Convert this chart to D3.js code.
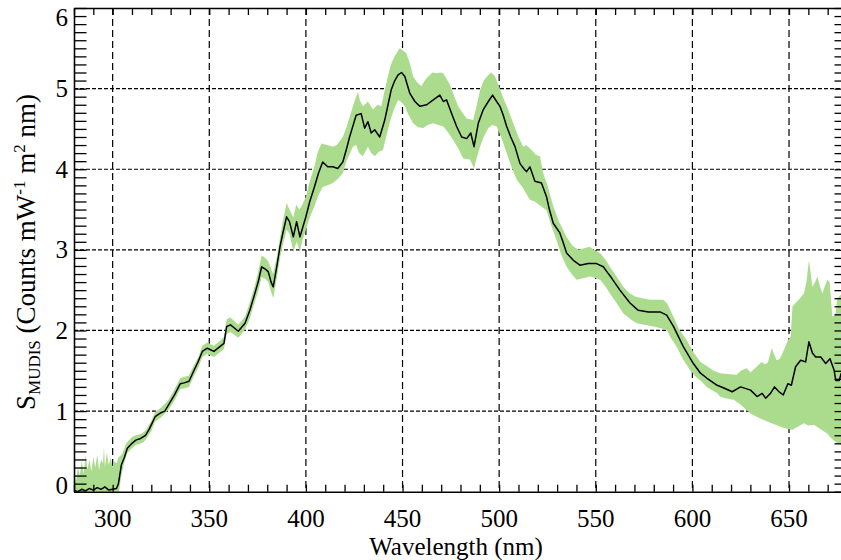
<!DOCTYPE html>
<html>
<head>
<meta charset="utf-8">
<script src="https://cdn.jsdelivr.net/npm/d3@7/dist/d3.min.js"></script>
</head>
<body style="margin:0">
<svg id="chart" width="841" height="560"></svg>
<script>
// ---- data ----
const xTickLabels = [300, 350, 400, 450, 500, 550, 600, 650];
const yTickLabels = [0, 1, 2, 3, 4, 5, 6];

const meanWl = [280,282,284,286,288,290,292,294,296,298,300,302,303,304.5,306,307.6,310,312,314.5,317,319,322,325,327,329,332,335,337,339.5,342,344,346.4,349,352.4,355,357.6,359,361,363,365,368.5,371,373.6,375.5,377.1,379,380.5,382,383.1,385,386.6,388,390,391.5,393.5,395.2,396.9,398,400,402,404.4,406.5,408.7,411.3,413.9,416.5,419.1,421,422.6,424.5,426,428.6,430.4,432.1,433.8,435.6,438.2,440.8,442.5,444.2,446,447.7,449.5,451.2,453.8,456.4,459,462.5,465.9,469.3,471.1,472.8,475.4,478,480.6,483.2,485.3,487,489.2,491.8,494.4,496.6,498.7,500.4,502,503.9,506,508.2,510.8,513,514.2,515.9,518.5,521.9,524.5,526,528,531.4,533,534.9,538.4,541.8,546.1,550.4,553.9,556,558.2,562.5,567.7,572,577.2,583.3,586.7,590.2,595.3,600.5,604.2,607.4,612.8,616,620.6,624.9,630.1,633.5,636.1,637.9,640.4,642.5,644.8,647,649.4,651.2,653.4,656,658.6,660.3,662.1,663.8,666.4,669,671.2,673.3,674.2,676,677];
const meanVal = [0.02,0.0,0.03,0.01,0.04,0.02,0.05,0.03,0.06,0.02,0.03,0.04,0.1,0.33,0.42,0.54,0.6,0.64,0.66,0.70,0.78,0.93,0.98,1.0,1.08,1.2,1.34,1.35,1.37,1.5,1.6,1.74,1.78,1.74,1.79,1.84,2.05,2.07,2.03,1.99,2.09,2.25,2.46,2.62,2.79,2.76,2.73,2.6,2.54,2.8,3.04,3.2,3.41,3.35,3.16,3.35,3.16,3.25,3.41,3.6,3.78,3.95,4.09,4.03,4.03,4.01,4.09,4.25,4.40,4.55,4.67,4.69,4.51,4.59,4.45,4.49,4.40,4.61,4.8,4.99,5.1,5.17,5.2,5.15,4.94,4.84,4.78,4.80,4.86,4.92,4.84,4.86,4.69,4.53,4.40,4.38,4.45,4.28,4.57,4.74,4.84,4.92,4.84,4.78,4.68,4.53,4.4,4.28,4.07,4.0,3.97,4.03,3.85,3.83,3.66,3.5,3.33,3.21,3.1,2.96,2.87,2.81,2.83,2.83,2.79,2.72,2.65,2.50,2.34,2.25,2.23,2.23,2.19,2.05,1.80,1.59,1.47,1.41,1.32,1.29,1.24,1.30,1.26,1.18,1.22,1.16,1.22,1.30,1.24,1.20,1.34,1.32,1.55,1.63,1.61,1.86,1.72,1.67,1.67,1.59,1.65,1.51,1.38,1.38,1.47];

const upperWl = [280,281,282,283,284,285,286,287,288,289,290,291,292,293,294,295,295.5,296,297,298,299,300,301,302,303,305,307,310,312,315,317,320,322,325,329,332,335,339.5,342,344.5,346.4,349,352.4,355,357.6,359,361,365,368.5,371,373.6,375.5,377.1,379,380.5,383,385,386.6,388,390,391.5,393.5,395,396.6,398,400,402,404.4,406,408,411,413.9,416,419.1,421,424.3,426.9,428,429.5,432.1,434.7,437,439,440.5,442.4,444,445.9,448.5,450,452,454,455.5,457.5,459.8,461.5,463.3,465.5,467.6,469.5,471.1,474.5,476.5,478.8,481,483.2,486.6,488,490.1,492,494.4,496,497.9,500,502.2,505,507.3,510,512.5,514,516.8,519,521.1,522.8,525,528,531,534.9,538,540.9,544,547,549,552.2,555,557.3,561,564.3,567,570.3,574,578.1,582,585,587,590.2,593,597.1,600.5,604.2,608,611,614.3,618,622.9,625,628.1,630,633.2,635.8,637.5,639,641,643.6,645.3,647,649.4,650.8,651.8,653.4,655,657.7,659,660.3,661,662.1,663.5,664.7,666,667.3,668.5,669.9,671,672.4,674,675,677];
const upperVal = [0.25,0.12,0.3,0.2,0.38,0.22,0.45,0.28,0.4,0.25,0.43,0.3,0.46,0.27,0.4,0.35,0.56,0.3,0.48,0.33,0.42,0.3,0.38,0.35,0.42,0.47,0.6,0.68,0.7,0.72,0.76,0.88,0.99,1.04,1.14,1.27,1.41,1.44,1.57,1.68,1.81,1.85,1.81,1.86,1.92,2.14,2.16,2.07,2.17,2.35,2.56,2.75,2.93,2.9,2.86,2.7,2.92,3.15,3.35,3.58,3.5,3.4,3.56,3.5,3.55,3.66,3.85,4.03,4.2,4.32,4.3,4.28,4.3,4.40,4.52,4.78,4.96,4.85,4.78,4.84,4.74,4.8,4.78,4.95,5.15,5.3,5.40,5.50,5.48,5.44,5.3,5.15,5.08,5.03,5.1,5.15,5.2,5.19,5.2,5.19,5.05,4.92,4.78,4.7,4.63,4.61,4.75,4.98,5.1,5.17,5.2,5.15,5.02,4.88,4.72,4.57,4.4,4.28,4.3,4.24,4.18,4.16,3.95,3.8,3.54,3.35,3.16,3.05,3.0,3.02,3.04,3.0,2.96,2.88,2.79,2.66,2.54,2.47,2.42,2.4,2.38,2.38,2.38,2.33,2.17,2.02,1.88,1.73,1.61,1.55,1.5,1.47,1.46,1.45,1.5,1.53,1.48,1.55,1.61,1.58,1.6,1.78,1.63,1.65,1.74,1.88,1.92,2.3,2.34,2.38,2.46,2.6,2.87,2.75,2.54,2.6,2.67,2.55,2.46,2.55,2.63,2.6,2.17,2.2,2.4,2.45];

const lowerWl = [280,303,304.5,306,307.6,310,312,315,317,320,322,325,329,332,335,339.5,342,344.5,346.4,349,352.4,355,357.6,359,361,365,368.5,371,373.6,375.5,377.1,379,380.5,382,383.1,385,386.6,388,390,391.5,393.5,395.2,396.9,398,400,402,404.4,406.5,408.7,411.3,413.9,416.5,419.1,421,424.3,426,427.5,429.5,432.1,433.8,435.6,438,439.9,441.5,443.3,445.5,447.7,449.5,451.2,453,455.5,458,460.7,463,465.9,468.5,471.1,473.8,476.3,479,481.5,484.9,487,488.5,490.1,492,494.4,496.5,498.7,501,503.9,506.5,509.1,512,515.9,518.5,521.1,524.5,527,529.7,532,534.9,537.5,540.1,544,547,550,552.2,555,557.3,561,564.3,568,571.2,575,579.8,583,586.7,589,591.8,595,598.7,602,604.2,607.4,610,612.8,614.3,617,621.4,625,630.1,634,638.7,643,647.3,651.6,654,657.7,660,662.9,666,669.9,672,675,677];
const lowerVal = [-0.05,-0.05,0.2,0.36,0.48,0.54,0.58,0.6,0.64,0.75,0.87,0.92,1.02,1.13,1.27,1.30,1.43,1.55,1.67,1.71,1.67,1.72,1.77,1.96,1.98,1.91,2.01,2.15,2.36,2.5,2.66,2.64,2.6,2.48,2.40,2.66,2.9,3.05,3.25,3.2,2.98,3.1,2.98,3.1,3.25,3.4,3.54,3.68,3.78,3.8,3.83,3.88,3.95,4.1,4.28,4.3,4.2,4.16,4.28,4.2,4.16,4.22,4.24,4.4,4.57,4.74,4.86,4.83,4.78,4.68,4.57,4.52,4.51,4.55,4.57,4.55,4.53,4.45,4.36,4.25,4.13,4.12,4.01,4.15,4.28,4.4,4.51,4.55,4.53,4.4,4.20,4.02,3.87,3.78,3.62,3.6,3.55,3.49,3.3,3.12,2.95,2.79,2.7,2.63,2.65,2.67,2.65,2.63,2.55,2.46,2.33,2.21,2.14,2.09,2.07,2.05,2.03,2.01,1.9,1.80,1.65,1.51,1.42,1.38,1.30,1.26,1.22,1.18,1.16,1.14,1.08,0.97,0.92,0.87,0.83,0.79,0.77,0.8,0.85,0.82,0.83,0.78,0.72,0.66,0.60,0.58];

const svg = d3.select("#chart");
const pL = 74, pR = 847, pT = 8, pB = 491.7;
const x = d3.scaleLinear().domain([280, 680]).range([pL, pR]);
const y = d3.scaleLinear().domain([0, 6]).range([pB, pT]);
const FONT = 25;
const FAM = d => `"Liberation Serif", monospace`;

// ---- text first, directly on the svg ----
svg.selectAll("text.xl").data(xTickLabels).join("text").attr("class", "xl")
  .attr("x", d => x(d)).attr("y", 527).attr("text-anchor", "middle")
  .attr("font-size", FONT).attr("font-family", FAM).text(d => d);
svg.selectAll("text.yl").data(yTickLabels).join("text").attr("class", "yl")
  .attr("x", 68).attr("y", d => y(d) + (d === 0 ? -6 : d === 6 ? 9 : 0) + 8.5)
  .attr("text-anchor", "end")
  .attr("font-size", FONT).attr("font-family", FAM).text(d => d);
svg.selectAll("text.xt").data(["Wavelength (nm)"]).join("text").attr("class", "xt")
  .attr("x", 456).attr("y", 555).attr("text-anchor", "middle")
  .attr("font-size", FONT).attr("font-family", FAM).text(d => d);
const yt = svg.selectAll("text.yt").data(["S"]).join("text").attr("class", "yt")
  .attr("transform", "translate(35,252) rotate(-90)").attr("text-anchor", "middle")
  .attr("font-size", 27).attr("font-family", FAM);
yt.append("tspan").text("S");
yt.append("tspan").attr("font-size", 17).attr("dy", 5).text("MUDIS");
yt.append("tspan").attr("dy", -5).text(" (Counts mW");
yt.append("tspan").attr("font-size", 17).attr("dy", -10).text("-1");
yt.append("tspan").attr("dy", 10).text(" m");
yt.append("tspan").attr("font-size", 17).attr("dy", -10).text("2");
yt.append("tspan").attr("dy", 10).text(" nm)");

// ---- clip ----
svg.append("defs").append("clipPath").attr("id", "plotclip")
  .append("rect").attr("x", pL).attr("y", pT).attr("width", pR - pL).attr("height", pB - pT);

// gridlines
svg.selectAll("line.v").data(xTickLabels).join("line").attr("class", "v")
  .attr("x1", d => x(d)).attr("x2", d => x(d)).attr("y1", pT).attr("y2", pB)
  .attr("stroke", "#000").attr("stroke-width", 1.2).attr("stroke-dasharray", "7,4");
svg.selectAll("line.h").data(yTickLabels.filter(d => d > 0 && d < 6)).join("line").attr("class", "h")
  .attr("x1", pL).attr("x2", pR).attr("y1", d => y(d)).attr("y2", d => y(d))
  .attr("stroke", "#000").attr("stroke-width", 1.2).attr("stroke-dasharray", "4,2");

// band
const plot = svg.append("g").attr("clip-path", "url(#plotclip)");
const bandPts = upperWl.map((w, i) => [w, upperVal[i]])
  .concat(lowerWl.map((w, i) => [w, lowerVal[i]]).reverse());
const lineGen = d3.line().x(d => x(d[0])).y(d => y(d[1]));
plot.append("path").attr("d", lineGen(bandPts) + "Z")
  .attr("fill", "#abdc8e").attr("stroke", "none");

// mean line
plot.append("path").attr("d", lineGen(meanWl.map((w, i) => [w, meanVal[i]])))
  .attr("fill", "none").attr("stroke", "#000").attr("stroke-width", 1.5)
  .attr("stroke-linejoin", "round");

// axes
const minorX = d3.range(280, 681, 10);
const minorY = d3.range(0, 61, 1).map(d => d / 10);
function styleAxis(g) {
  g.attr("font-family", null);
  g.select(".domain").attr("stroke", "#000").attr("stroke-width", 1.6);
  g.selectAll(".tick line").attr("stroke", "#000").attr("stroke-width", 1.3);
  g.selectAll(".tick text").remove();
}
svg.append("g").attr("transform", `translate(0,${pB})`)
  .call(d3.axisBottom(x).tickValues(minorX).tickSizeInner(-7).tickSizeOuter(0).tickFormat(""))
  .call(styleAxis);
svg.append("g").attr("transform", `translate(0,${pT})`)
  .call(d3.axisTop(x).tickValues(minorX).tickSizeInner(-7).tickSizeOuter(0).tickFormat(""))
  .call(styleAxis);
svg.append("g").attr("transform", `translate(${pL},0)`)
  .call(d3.axisLeft(y).tickValues(minorY).tickSizeInner(-12.5).tickSizeOuter(0).tickFormat(""))
  .call(styleAxis);
svg.append("g").attr("transform", `translate(${pR},0)`)
  .call(d3.axisRight(y).tickValues(minorY).tickSizeInner(-12.5).tickSizeOuter(0).tickFormat(""))
  .call(styleAxis);
</script>
</body>
</html>
